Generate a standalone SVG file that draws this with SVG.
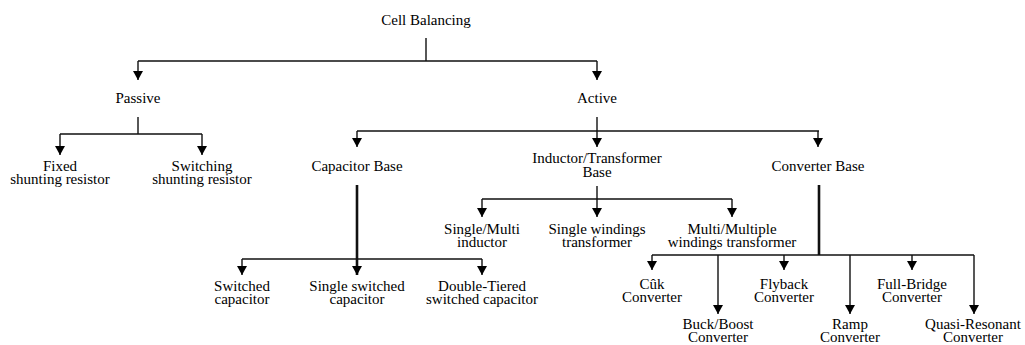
<svg xmlns="http://www.w3.org/2000/svg" width="1025" height="345" viewBox="0 0 1025 345">
<style>
text{font-family:"Liberation Serif","Times New Roman",serif;font-size:15px;fill:#000;text-anchor:middle}
.c{fill:none;stroke:#111;stroke-width:1.4}
.a{marker-end:url(#ah)}
.t{stroke-width:2.6}
</style>
<defs>
<marker id="ah" markerUnits="userSpaceOnUse" markerWidth="12" markerHeight="10" viewBox="0 0 12 10" refX="6" refY="9" orient="0">
<polygon points="1,0 11,0 6,9" fill="#000"/>
</marker>
</defs>
<rect width="1025" height="345" fill="#fff"/>
<g id="connectors">
<path class="c" d="M426,38V61M138,61H597"/>
<path class="c a" d="M138,61V80"/>
<path class="c a" d="M597,61V80"/>
<path class="c" d="M138,117V134M60,134H202"/>
<path class="c a" d="M60,134V155"/>
<path class="c a" d="M202,134V155"/>
<path class="c" d="M357,131H819"/>
<path class="c a" d="M597,117V147"/>
<path class="c a" d="M357,131V147"/>
<path class="c a" d="M818,131V147"/>
<path class="c" d="M597,186V199M482,199H732"/>
<path class="c a" d="M482,199V217"/>
<path class="c a" d="M597,199V217"/>
<path class="c a" d="M732,199V217"/>
<path class="c" d="M242,259H482"/>
<path class="c t a" d="M357,185V275"/>
<path class="c a" d="M242,259V275"/>
<path class="c a" d="M482,259V275"/>
<path class="c t" d="M819,185V255"/>
<path class="c" d="M652,255H974"/>
<path class="c a" d="M652,255V270"/>
<path class="c a" d="M784,255V270"/>
<path class="c a" d="M912,255V270"/>
<path class="c a" d="M718,255V314"/>
<path class="c a" d="M850,255V314"/>
<path class="c a" d="M974,255V314"/>
</g>
<g id="n-root"><text x="426" y="25">Cell Balancing</text></g>
<g id="n-passive"><text x="138" y="103">Passive</text></g>
<g id="n-active"><text x="597" y="103">Active</text></g>
<g id="n-fixed"><text x="60" y="171">Fixed<tspan x="60" dy="13">shunting resistor</tspan></text></g>
<g id="n-switching"><text x="202" y="171">Switching<tspan x="202" dy="13">shunting resistor</tspan></text></g>
<g id="n-capbase"><text x="357" y="171">Capacitor Base</text></g>
<g id="n-indbase"><text x="597" y="163">Inductor/Transformer<tspan x="597" dy="14">Base</tspan></text></g>
<g id="n-convbase"><text x="818" y="171">Converter Base</text></g>
<g id="n-singlemulti"><text x="482" y="234">Single/Multi<tspan x="482" dy="13">inductor</tspan></text></g>
<g id="n-singlewind"><text x="597" y="234">Single windings<tspan x="597" dy="13">transformer</tspan></text></g>
<g id="n-multiwind"><text x="732" y="234">Multi/Multiple<tspan x="732" dy="13">windings transformer</tspan></text></g>
<g id="n-switchedcap"><text x="242" y="291">Switched<tspan x="242" dy="13">capacitor</tspan></text></g>
<g id="n-singleswcap"><text x="357" y="291">Single switched<tspan x="357" dy="13">capacitor</tspan></text></g>
<g id="n-doubletier"><text x="482" y="291">Double-Tiered<tspan x="482" dy="13">switched capacitor</tspan></text></g>
<g id="n-cuk"><text x="652" y="289">Cûk<tspan x="652" dy="13">Converter</tspan></text></g>
<g id="n-flyback"><text x="784" y="289">Flyback<tspan x="784" dy="13">Converter</tspan></text></g>
<g id="n-fullbridge"><text x="912" y="289">Full-Bridge<tspan x="912" dy="13">Converter</tspan></text></g>
<g id="n-buckboost"><text x="718" y="329">Buck/Boost<tspan x="718" dy="13">Converter</tspan></text></g>
<g id="n-ramp"><text x="850" y="329">Ramp<tspan x="850" dy="13">Converter</tspan></text></g>
<g id="n-quasi"><text x="973" y="329">Quasi-Resonant<tspan x="973" dy="13">Converter</tspan></text></g>
</svg>
